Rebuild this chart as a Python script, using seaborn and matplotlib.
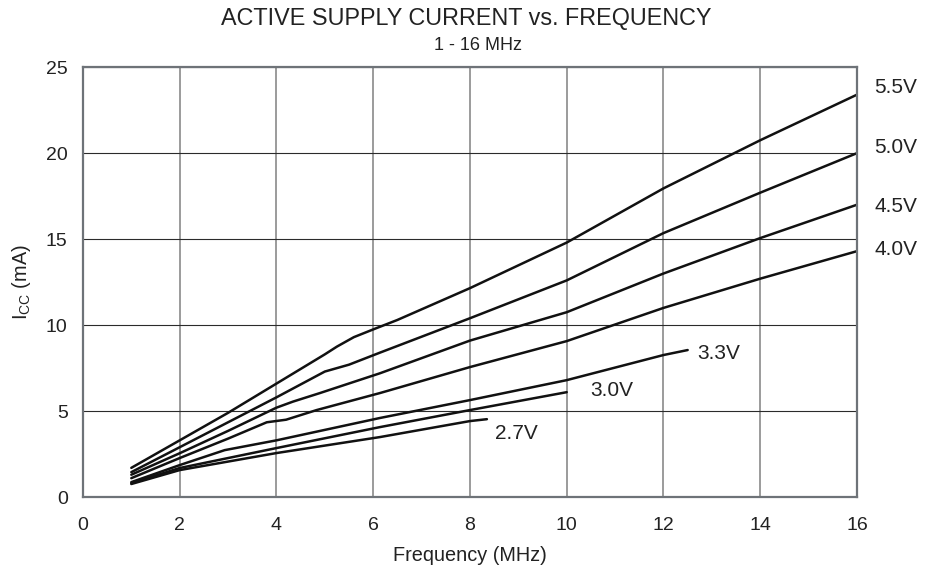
import pandas as pd
import numpy as np
import matplotlib
matplotlib.use("Agg")
import matplotlib.pyplot as plt
import seaborn as sns

# curve points (frequency MHz, Icc mA)
f_55 = [1, 2, 3, 4, 5, 5.25, 5.6, 6, 6.5, 8, 10, 12, 14, 16]
i_55 = [1.7, 3.3, 4.9, 6.6, 8.3, 8.75, 9.3, 9.75, 10.3, 12.15, 14.8, 17.95, 20.75, 23.4]

f_50 = [1, 2, 3, 4, 4.5, 5, 5.5, 6.14, 8, 10, 12, 14, 16]
i_50 = [1.45, 2.9, 4.35, 5.8, 6.55, 7.3, 7.7, 8.4, 10.4, 12.6, 15.35, 17.7, 20.0]

f_45 = [1, 2, 3, 4, 4.34, 4.9, 6.14, 8, 10, 12, 14, 16]
i_45 = [1.3, 2.55, 3.85, 5.2, 5.55, 6.05, 7.2, 9.1, 10.75, 13.0, 15.06, 17.0]

f_40 = [1, 2, 3, 3.8, 4.2, 4.83, 6.14, 8, 10, 12, 14, 16]
i_40 = [1.1, 2.27, 3.4, 4.35, 4.5, 5.06, 6.05, 7.56, 9.07, 11.0, 12.7, 14.3]

f_33 = [1, 2, 2.93, 4, 6.14, 8, 10, 12, 12.5]
i_33 = [0.87, 1.86, 2.73, 3.3, 4.6, 5.64, 6.8, 8.26, 8.55]

f_30 = [1, 2, 4, 6.14, 8, 10]
i_30 = [0.81, 1.69, 2.85, 4.07, 5.06, 6.1]

f_27 = [1, 2, 4, 6.14, 8, 8.35]
i_27 = [0.76, 1.57, 2.56, 3.49, 4.42, 4.53]

voltages = ["5.5V", "5.0V", "4.5V", "4.0V", "3.3V", "3.0V", "2.7V"]
freqs = [f_55, f_50, f_45, f_40, f_33, f_30, f_27]
currents = [i_55, i_50, i_45, i_40, i_33, i_30, i_27]

# where each curve label sits
label_x = [16.36, 16.36, 16.36, 16.36, 12.7, 10.48, 8.51]
label_y = [23.8, 20.35, 16.9, 14.4, 8.37, 6.22, 3.72]

df = pd.concat(
    [pd.DataFrame({"freq": f, "icc": i, "volt": v}) for f, i, v in zip(freqs, currents, voltages)],
    ignore_index=True,
)

sns.set_style("white")
plt.rcParams["font.family"] = ["Liberation Sans", "DejaVu Sans"]
plt.rcParams["mathtext.fontset"] = "custom"
plt.rcParams["mathtext.rm"] = "Liberation Sans"

fig = plt.figure(figsize=(9.32, 5.74), dpi=100)
ax = fig.add_axes([0.089, 0.134, 0.8305, 0.749])

sns.lineplot(data=df, x="freq", y="icc", hue="volt", palette=["#111111"] * 7,
             estimator=None, sort=False, linewidth=1.8, legend=False, ax=ax)

ax.set_xlim(0, 16)
ax.set_ylim(0, 25)
ax.set_xticks(np.arange(0, 17, 2))
ax.set_yticks(np.arange(0, 26, 5))
ax.tick_params(axis="x", length=0, pad=14, labelsize=14, colors="#222222")
ax.tick_params(axis="y", length=0, pad=11, labelsize=14, colors="#222222")

ax.xaxis.grid(True, color="#8a8a8a", linewidth=1.2)
ax.yaxis.grid(True, color="#2b2b2b", linewidth=0.8)
ax.set_axisbelow(True)
for sp in ax.spines.values():
    sp.set_color("#6e7378")
    sp.set_linewidth(1.6)

ax.set_xlabel("Frequency (MHz)", fontsize=14.3, color="#222222", va="center")
ax.xaxis.set_label_coords(0.5, -0.137)
ax.set_ylabel(r"I$_{\mathrm{CC}}$ (mA)", fontsize=14.3, color="#222222", va="center")
ax.yaxis.set_label_coords(-0.079, 0.5)

for lx, ly, v in zip(label_x, label_y, voltages):
    ax.text(lx, ly, v, fontsize=15, color="#222222", ha="left", va="center", clip_on=False)

fig.text(0.5, 0.968, "ACTIVE SUPPLY CURRENT vs. FREQUENCY", ha="center", va="center",
         fontsize=16.8, color="#222222")
fig.text(0.513, 0.921, "1 - 16 MHz", ha="center", va="center", fontsize=13, color="#222222")

fig.savefig("out.png", dpi=100)
